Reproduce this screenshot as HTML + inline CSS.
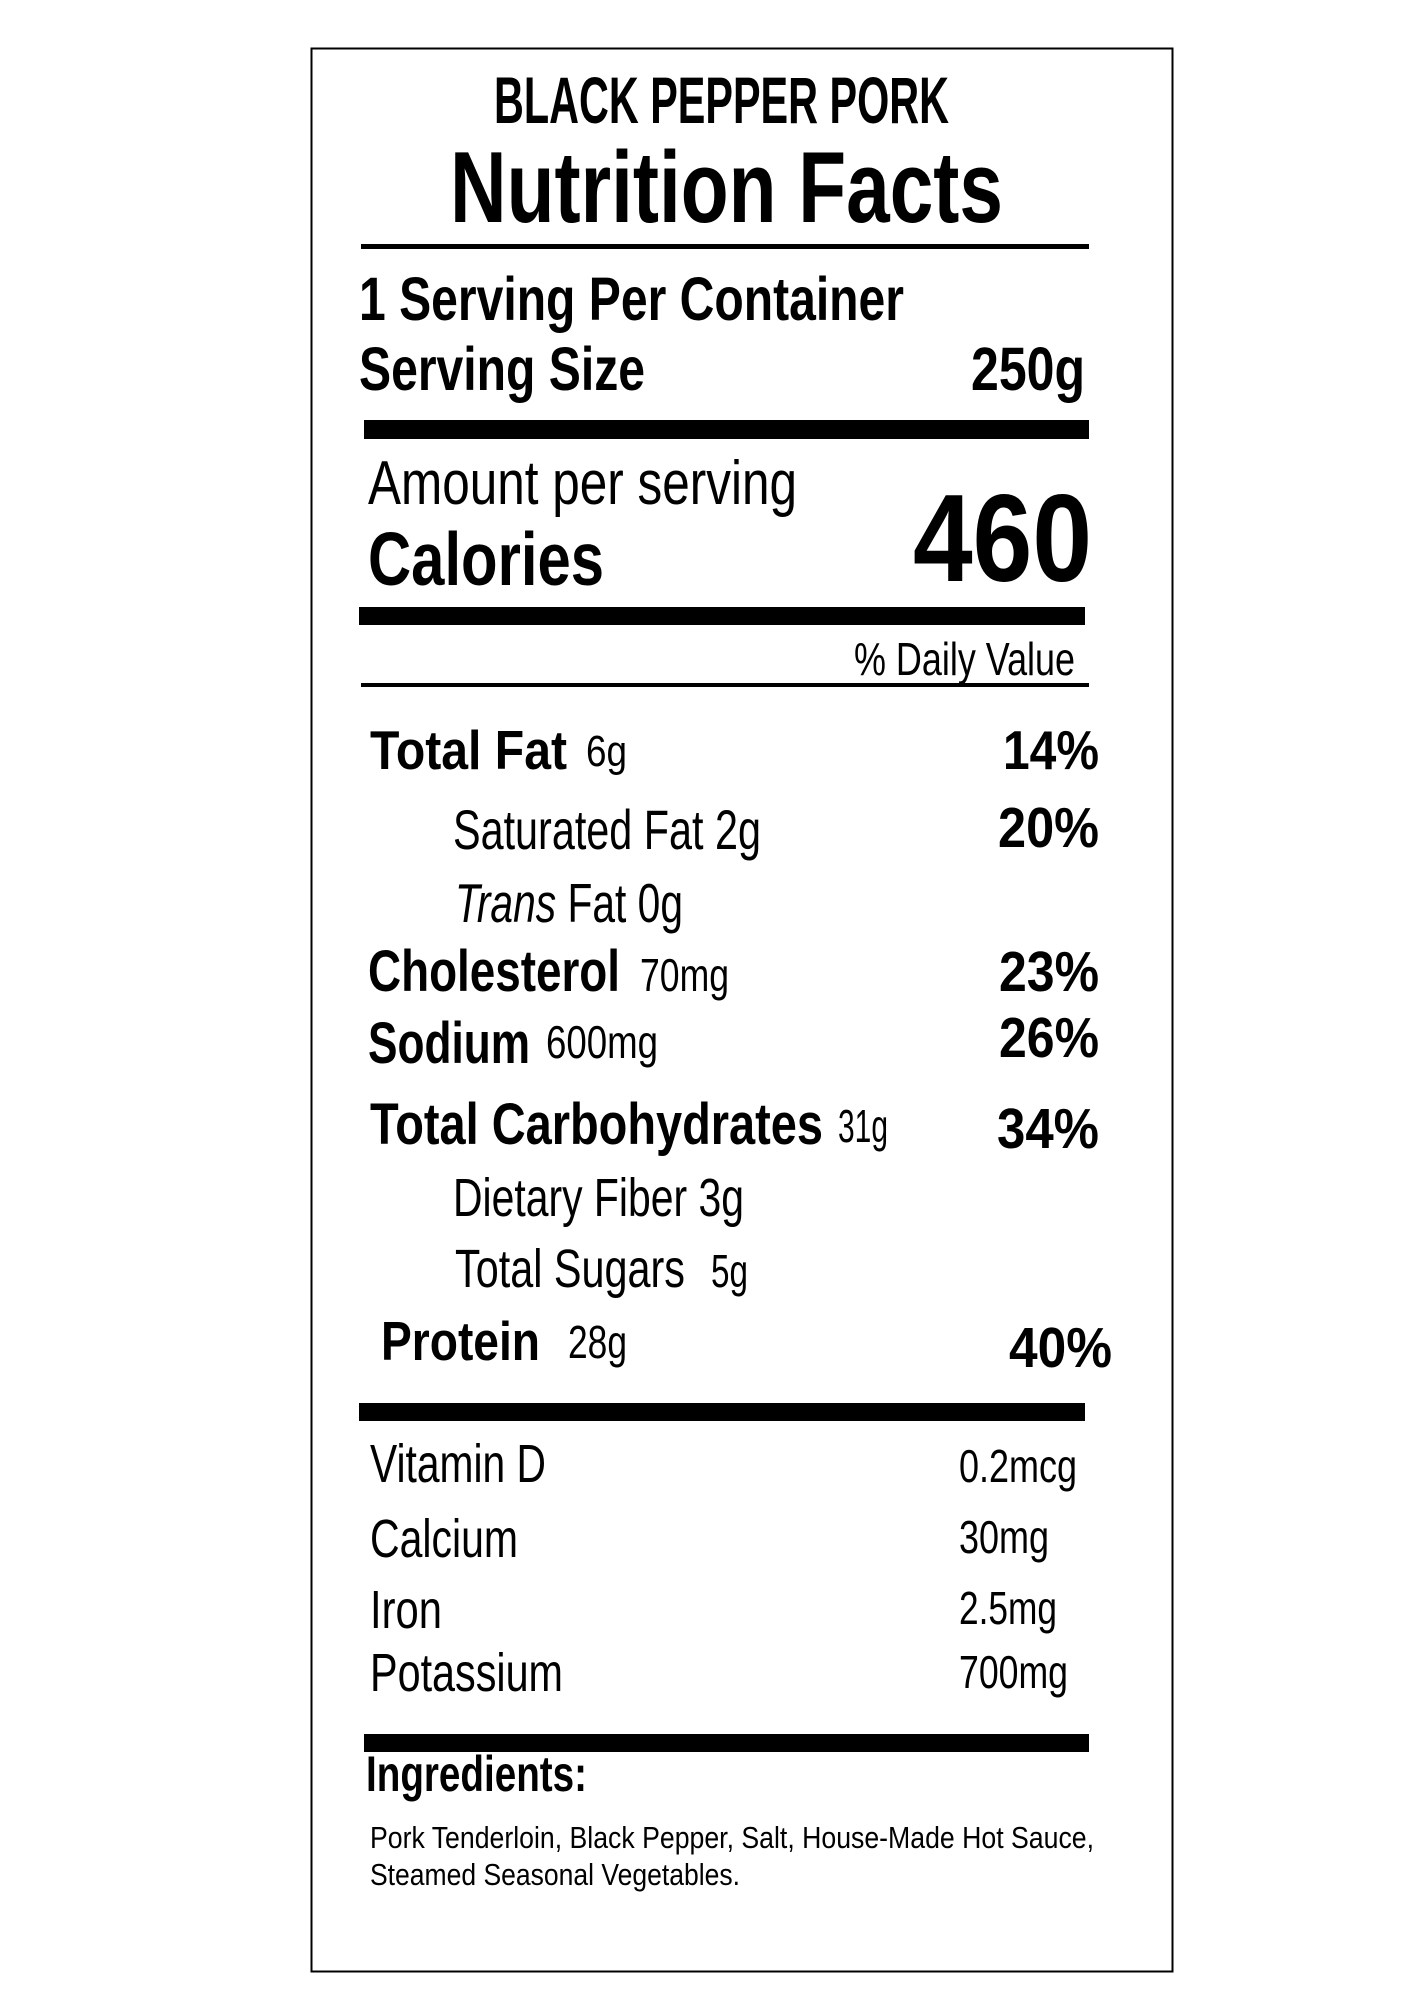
<!DOCTYPE html>
<html><head><meta charset="utf-8"><style>
html,body{margin:0;padding:0;background:#fff;}
svg{display:block;}
text{font-family:"Liberation Sans",sans-serif;fill:#000;}
.b{font-weight:bold;}
</style></head><body>
<svg width="1414" height="2000" viewBox="0 0 1414 2000" xmlns="http://www.w3.org/2000/svg">
<rect x="311.5" y="48.5" width="861" height="1923" fill="none" stroke="#000" stroke-width="2"/>
<text class="b" x="494" y="123" font-size="66" textLength="455" lengthAdjust="spacingAndGlyphs">BLACK PEPPER PORK</text>
<text class="b" x="450" y="222" font-size="101" textLength="553" lengthAdjust="spacingAndGlyphs">Nutrition Facts</text>
<rect x="361" y="244" width="728" height="5"/>
<text class="b" x="359" y="320" font-size="61" textLength="545" lengthAdjust="spacingAndGlyphs">1 Serving Per Container</text>
<text class="b" x="359" y="390" font-size="61" textLength="286" lengthAdjust="spacingAndGlyphs">Serving Size</text>
<text class="b" x="971" y="390" font-size="61" textLength="114" lengthAdjust="spacingAndGlyphs">250g</text>
<rect x="364" y="420" width="725" height="19"/>
<text x="368" y="504" font-size="62" textLength="429" lengthAdjust="spacingAndGlyphs">Amount per serving</text>
<text class="b" x="368" y="585" font-size="75" textLength="236" lengthAdjust="spacingAndGlyphs">Calories</text>
<text class="b" x="913" y="581" font-size="124" textLength="179" lengthAdjust="spacingAndGlyphs">460</text>
<rect x="359" y="607" width="726" height="18"/>
<text x="854" y="675" font-size="46" textLength="221" lengthAdjust="spacingAndGlyphs">% Daily Value</text>
<rect x="361" y="683" width="728" height="4"/>

<text class="b" x="370" y="769" font-size="55" textLength="197" lengthAdjust="spacingAndGlyphs">Total Fat</text>
<text x="586" y="766" font-size="44" textLength="41" lengthAdjust="spacingAndGlyphs">6g</text>
<text class="b" x="1003" y="769" font-size="55" textLength="96" lengthAdjust="spacingAndGlyphs">14%</text>

<text x="453" y="849" font-size="56" textLength="308" lengthAdjust="spacingAndGlyphs">Saturated Fat 2g</text>
<text class="b" x="998" y="847" font-size="57" textLength="101" lengthAdjust="spacingAndGlyphs">20%</text>

<text x="455" y="922" font-size="55" textLength="228" lengthAdjust="spacingAndGlyphs"><tspan font-style="italic">Trans</tspan> Fat 0g</text>

<text class="b" x="368" y="991" font-size="58" textLength="252" lengthAdjust="spacingAndGlyphs">Cholesterol</text>
<text x="640" y="991" font-size="46" textLength="89" lengthAdjust="spacingAndGlyphs">70mg</text>
<text class="b" x="999" y="991" font-size="57" textLength="100" lengthAdjust="spacingAndGlyphs">23%</text>

<text class="b" x="368" y="1063" font-size="58" textLength="162" lengthAdjust="spacingAndGlyphs">Sodium</text>
<text x="546" y="1058" font-size="46" textLength="112" lengthAdjust="spacingAndGlyphs">600mg</text>
<text class="b" x="999" y="1057" font-size="57" textLength="100" lengthAdjust="spacingAndGlyphs">26%</text>

<text class="b" x="370" y="1144" font-size="58" textLength="453" lengthAdjust="spacingAndGlyphs">Total Carbohydrates</text>
<text x="838" y="1142" font-size="46" textLength="50" lengthAdjust="spacingAndGlyphs">31g</text>
<text class="b" x="997" y="1148" font-size="57" textLength="102" lengthAdjust="spacingAndGlyphs">34%</text>

<text x="453" y="1216" font-size="54" textLength="291" lengthAdjust="spacingAndGlyphs">Dietary Fiber 3g</text>
<text x="455" y="1287" font-size="54" textLength="230" lengthAdjust="spacingAndGlyphs">Total Sugars</text>
<text x="711" y="1287" font-size="46" textLength="37" lengthAdjust="spacingAndGlyphs">5g</text>

<text class="b" x="381" y="1360" font-size="55" textLength="159" lengthAdjust="spacingAndGlyphs">Protein</text>
<text x="568" y="1358" font-size="46" textLength="59" lengthAdjust="spacingAndGlyphs">28g</text>
<text class="b" x="1009" y="1367" font-size="57" textLength="103" lengthAdjust="spacingAndGlyphs">40%</text>

<rect x="359" y="1403" width="726" height="18"/>

<text x="370" y="1482" font-size="54" textLength="176" lengthAdjust="spacingAndGlyphs">Vitamin D</text>
<text x="959" y="1482" font-size="46" textLength="118" lengthAdjust="spacingAndGlyphs">0.2mcg</text>
<text x="370" y="1557" font-size="54" textLength="148" lengthAdjust="spacingAndGlyphs">Calcium</text>
<text x="959" y="1553" font-size="46" textLength="90" lengthAdjust="spacingAndGlyphs">30mg</text>
<text x="370" y="1628" font-size="54" textLength="72" lengthAdjust="spacingAndGlyphs">Iron</text>
<text x="959" y="1624" font-size="46" textLength="98" lengthAdjust="spacingAndGlyphs">2.5mg</text>
<text x="370" y="1691" font-size="54" textLength="193" lengthAdjust="spacingAndGlyphs">Potassium</text>
<text x="959" y="1688" font-size="46" textLength="109" lengthAdjust="spacingAndGlyphs">700mg</text>

<rect x="364" y="1734" width="725" height="18"/>
<text class="b" x="366" y="1791" font-size="50" textLength="221" lengthAdjust="spacingAndGlyphs">Ingredients:</text>
<text x="370" y="1848" font-size="31" textLength="724" lengthAdjust="spacingAndGlyphs">Pork Tenderloin, Black Pepper, Salt, House-Made Hot Sauce,</text>
<text x="370" y="1885" font-size="31" textLength="370" lengthAdjust="spacingAndGlyphs">Steamed Seasonal Vegetables.</text>
</svg>
</body></html>
